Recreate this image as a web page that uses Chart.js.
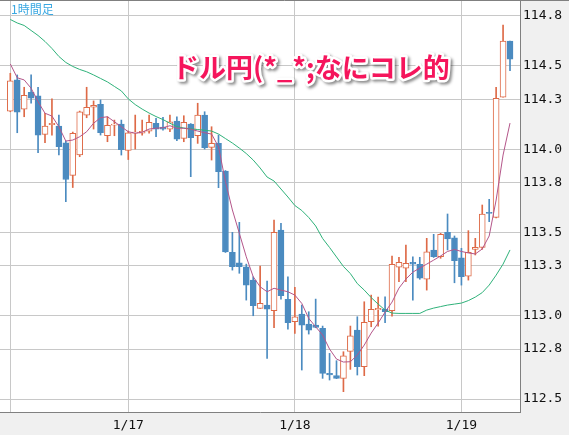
<!DOCTYPE html>
<html>
<head>
<meta charset="utf-8">
<script src="https://cdn.jsdelivr.net/npm/chart.js@4.4.1/dist/chart.umd.min.js"></script>
<style>
html, body { margin: 0; padding: 0; background: #fff; }
</style>
</head>
<body>
<canvas id="fxChart" width="569" height="435"></canvas>
<script>
// 1時間足 ローソク (1/16 07:00 〜)
const opens = [114.229, 114.416, 114.240, 114.342, 114.320, 114.089, 114.147, 114.139, 114.039, 113.843,
  113.965, 114.204, 114.252, 114.270, 114.081, 114.144, 114.151, 113.993, 114.097, 114.097,
  114.108, 114.156, 114.133, 114.120, 114.169, 114.065, 114.151, 114.081, 114.205, 114.011,
  114.035, 113.869, 113.381, 113.318, 113.294, 113.214, 113.044, 113.064, 113.030, 113.515,
  113.098, 112.964, 113.010, 112.950, 112.944, 112.924, 112.654, 112.640, 112.624, 112.786,
  112.914, 112.694, 112.964, 113.036, 113.038, 113.030, 113.291, 113.285, 113.321, 113.309,
  113.219, 113.395, 113.354, 113.501, 113.468, 113.348, 113.238, 113.399, 113.411, 113.621,
  113.591, 114.312, 114.650];
const highs = [114.456, 114.446, 114.372, 114.446, 114.372, 114.216, 114.302, 114.205, 114.049, 114.103,
  114.229, 114.372, 114.290, 114.296, 114.195, 114.175, 114.175, 114.109, 114.205, 114.175,
  114.205, 114.186, 114.192, 114.205, 114.195, 114.201, 114.154, 114.276, 114.225, 114.135,
  114.085, 113.872, 113.501, 113.561, 113.310, 113.234, 113.298, 113.208, 113.575, 113.555,
  113.234, 113.171, 113.064, 113.024, 113.100, 112.938, 112.774, 112.730, 112.784, 112.938,
  112.994, 113.084, 113.124, 113.112, 113.114, 113.359, 113.351, 113.425, 113.354, 113.351,
  113.465, 113.489, 113.495, 113.611, 113.479, 113.405, 113.511, 113.465, 113.665, 113.699,
  114.372, 114.746, 114.650];
const lows = [114.225, 114.099, 114.195, 114.276, 113.979, 114.039, 114.085, 113.965, 113.685, 113.770,
  113.955, 114.189, 114.121, 114.085, 114.045, 114.081, 113.965, 113.938, 114.001, 114.085,
  114.096, 114.075, 114.115, 114.105, 114.051, 114.045, 113.835, 114.035, 114.001, 113.935,
  113.769, 113.380, 113.274, 113.255, 113.094, 113.000, 113.044, 112.744, 112.928, 113.100,
  112.920, 112.894, 112.674, 112.890, 112.928, 112.624, 112.614, 112.622, 112.544, 112.678,
  112.644, 112.640, 112.934, 112.938, 112.959, 112.998, 113.204, 113.204, 113.094, 113.219,
  113.154, 113.350, 113.345, 113.395, 113.198, 113.184, 113.214, 113.365, 113.399, 113.565,
  113.587, 114.312, 114.471];
const closes = [114.410, 114.222, 114.324, 114.306, 114.085, 114.139, 114.156, 114.015, 113.818, 114.096,
  114.225, 114.252, 114.264, 114.099, 114.144, 114.151, 113.998, 114.099, 114.099, 114.108,
  114.162, 114.120, 114.120, 114.165, 114.061, 114.162, 114.069, 114.205, 114.009, 114.035,
  113.865, 113.384, 113.294, 113.294, 113.184, 113.060, 113.074, 113.040, 113.501, 113.120,
  112.958, 112.994, 112.944, 112.914, 112.930, 112.654, 112.644, 112.624, 112.760, 112.880,
  112.694, 112.960, 113.038, 113.044, 113.024, 113.309, 113.321, 113.315, 113.310, 113.225,
  113.384, 113.354, 113.489, 113.462, 113.330, 113.234, 113.381, 113.411, 113.611, 113.614,
  114.306, 114.650, 114.540];

// 移動平均 (短期・長期)
const maShort = [114.512, 114.429, 114.416, 114.366, 114.285, 114.216, 114.199, 114.135, 114.049, 114.055,
  114.075, 114.105, 114.156, 114.189, 114.195, 114.165, 114.135, 114.105, 114.096, 114.102,
  114.121, 114.126, 114.129, 114.141, 114.126, 114.126, 114.120, 114.109, 114.099, 114.091,
  114.015, 113.805, 113.635, 113.495, 113.354, 113.234, 113.174, 113.144, 113.165, 113.154,
  113.144, 113.124, 113.074, 112.984, 112.934, 112.884, 112.800, 112.740, 112.722, 112.724,
  112.764, 112.824, 112.896, 112.956, 113.022, 113.082, 113.166, 113.220, 113.262, 113.286,
  113.310, 113.334, 113.359, 113.386, 113.398, 113.386, 113.377, 113.371, 113.401, 113.479,
  113.695, 113.965, 114.157];
const maLong = [114.779, 114.758, 114.743, 114.713, 114.683, 114.647, 114.605, 114.557, 114.521, 114.497,
  114.479, 114.465, 114.446, 114.425, 114.404, 114.377, 114.350, 114.302, 114.268, 114.241,
  114.217, 114.196, 114.178, 114.156, 114.136, 114.127, 114.123, 114.118, 114.114, 114.109,
  114.091, 114.064, 114.037, 114.007, 113.974, 113.935, 113.887, 113.833, 113.809, 113.761,
  113.713, 113.662, 113.632, 113.590, 113.539, 113.464, 113.410, 113.353, 113.296, 113.253,
  113.193, 113.154, 113.109, 113.070, 113.034, 113.016, 113.014, 113.014, 113.014, 113.014,
  113.034, 113.046, 113.055, 113.064, 113.070, 113.076, 113.091, 113.112, 113.139, 113.184,
  113.244, 113.310, 113.395];

// 軸目盛り
const dayGridIdx = [0, 17, 41, 65];
const dayLabels = ['', '1/17', '1/18', '1/19'];
const priceTicks = [112.5, 112.8, 113.0, 113.3, 113.5, 113.8, 114.0, 114.3, 114.5, 114.8];

const UP = '#de6a47';
const DOWN = '#4b8bc0';
const monoFont = { family: '"DejaVu Sans Mono", monospace', size: 13 };

const isUp = i => closes[i] >= opens[i];
const candleIdx = opens.map((_, i) => i);

// ラベル分の余白を付けない
function fixSize(prop, size) {
  return s => {
    s[prop] = size;
    s.paddingTop = 0;
    s.paddingBottom = 0;
    s.paddingLeft = 0;
    s.paddingRight = 0;
  };
}

// 背景・パネル・見出し
const framePlugin = {
  id: 'frame',
  beforeDraw(chart) {
    const { ctx, chartArea: a, width, height } = chart;
    ctx.save();
    ctx.fillStyle = '#f0f0f0';
    ctx.fillRect(0, 0, width, height);
    ctx.fillStyle = '#ffffff';
    ctx.fillRect(a.left, a.top, a.right - a.left, a.bottom - a.top);
    ctx.restore();
  },
  afterDraw(chart) {
    const { ctx, width } = chart;
    ctx.save();
    ctx.strokeStyle = '#808080';
    ctx.lineWidth = 1;
    ctx.beginPath();
    ctx.moveTo(0, 0.5);
    ctx.lineTo(width, 0.5);
    ctx.stroke();

    ctx.fillStyle = '#3aa8e2';
    ctx.font = '12px "Noto Sans CJK JP", sans-serif';
    ctx.textBaseline = 'middle';
    ctx.fillText('1時間足', 11, 9);

    ctx.font = 'bold 27px "Noto Sans CJK JP", sans-serif';
    ctx.shadowColor = 'rgba(0,0,0,0.45)';
    ctx.shadowBlur = 3;
    ctx.shadowOffsetX = 2;
    ctx.shadowOffsetY = 2;
    ctx.lineJoin = 'round';
    ctx.lineWidth = 5;
    ctx.strokeStyle = '#ffffff';
    ctx.strokeText('ドル円(*_*;なにコレ的', 172, 68);
    ctx.shadowColor = 'transparent';
    ctx.fillStyle = '#f5155c';
    ctx.fillText('ドル円(*_*;なにコレ的', 172, 68);
    ctx.restore();
  }
};

new Chart(document.getElementById('fxChart'), {
  type: 'bar',
  data: {
    datasets: [
      {
        type: 'line',
        data: candleIdx.map(i => ({ x: i, y: maShort[i] })),
        borderColor: '#b4568a',
        borderWidth: 1,
        pointRadius: 0,
        order: 0
      },
      {
        type: 'line',
        data: candleIdx.map(i => ({ x: i, y: maLong[i] })),
        borderColor: '#2fb27a',
        borderWidth: 1,
        pointRadius: 0,
        order: 1
      },
      {
        data: candleIdx.map(i => ({ x: i, y: [opens[i], closes[i]] })),
        backgroundColor: candleIdx.map(i => isUp(i) ? '#ffffff' : DOWN),
        borderColor: candleIdx.map(i => isUp(i) ? UP : DOWN),
        borderWidth: 1,
        borderSkipped: false,
        barThickness: 6,
        minBarLength: 1,
        grouped: false,
        order: 2
      },
      {
        data: candleIdx.map(i => ({ x: i, y: [lows[i], highs[i]] })),
        backgroundColor: candleIdx.map(i => isUp(i) ? UP : DOWN),
        borderWidth: 0,
        barThickness: 1,
        grouped: false,
        order: 3
      }
    ]
  },
  options: {
    responsive: false,
    animation: false,
    layout: { padding: { top: 1 } },
    plugins: { legend: { display: false }, tooltip: { enabled: false } },
    scales: {
      x: {
        type: 'linear',
        min: -1.484,
        max: 73.44,
        offset: false,
        afterBuildTicks: s => { s.ticks = dayGridIdx.map(v => ({ value: v })); },
        afterFit: fixSize('height', 23),
        grid: { color: '#c8c8c8', drawTicks: false, offset: false },
        border: { color: '#808080' },
        ticks: {
          padding: 6,
          color: '#111',
          font: monoFont,
          maxRotation: 0,
          autoSkip: false,
          callback: (v, i) => dayLabels[i]
        }
      },
      y: {
        position: 'right',
        min: 112.422,
        max: 114.890,
        afterBuildTicks: s => { s.ticks = priceTicks.map(v => ({ value: v })); },
        afterFit: fixSize('width', 49),
        grid: { color: '#c8c8c8', drawTicks: false },
        border: { color: '#808080' },
        ticks: {
          padding: 3,
          color: '#111',
          font: monoFont,
          callback: v => v.toFixed(1)
        }
      }
    }
  },
  plugins: [framePlugin]
});
</script>
</body>
</html>
